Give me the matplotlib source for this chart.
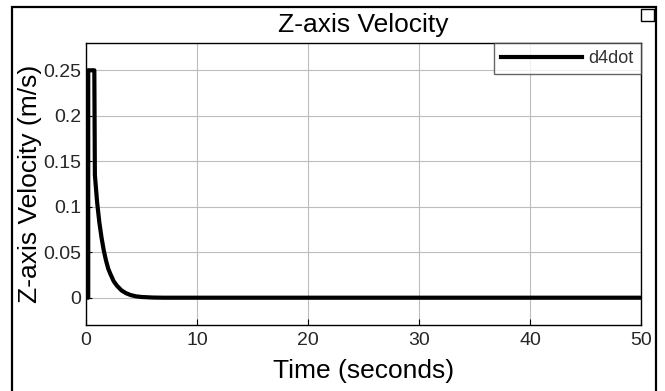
import matplotlib
matplotlib.use('Agg')
import matplotlib.pyplot as plt
from matplotlib.patches import Rectangle

plt.rcParams['font.family'] = ['Liberation Sans', 'DejaVu Sans']

# values
time_s = [0.0, 0.2, 0.2, 0.75, 0.8, 1.0, 1.2, 1.4, 1.6, 1.8, 2.0, 2.2, 2.5,
          2.8, 3.2, 3.6, 4.0, 4.5, 5.0, 6.0, 7.0, 50.0]
d4dot = [0.0, 0.0, 0.25, 0.25, 0.135, 0.105, 0.083, 0.066, 0.052, 0.041,
         0.032, 0.026, 0.018, 0.013, 0.008, 0.005, 0.003, 0.0015, 0.0008,
         0.0002, 0.0, 0.0]
xticks = [0, 10, 20, 30, 40, 50]
yticks = [0, 0.05, 0.1, 0.15, 0.2, 0.25]
ytick_labels = ['0', '0.05', '0.1', '0.15', '0.2', '0.25']

fig = plt.figure(figsize=(6.65, 3.91), dpi=100)
ax = fig.add_axes([86 / 665, 1 - 325 / 391, 555 / 665, 282 / 391])

ax.plot(time_s, d4dot, color='black', linewidth=3, label='d4dot')

ax.set_xlim(0, 50)
ax.set_ylim(-0.03, 0.28)
ax.set_xticks(xticks)
ax.set_yticks(yticks)
ax.set_yticklabels(ytick_labels)
ax.tick_params(direction='in', length=4, labelsize=14, colors='black',
               labelcolor='#262626')
ax.tick_params(axis='x', pad=5)
ax.grid(True, color='#bdbdbd', linewidth=0.8)
ax.set_axisbelow(True)
for s in ax.spines.values():
    s.set_linewidth(1.0)
    s.set_color('black')

ax.set_title('Z-axis Velocity', fontsize=19, pad=8)
ax.set_xlabel('Time (seconds)', fontsize=19, labelpad=7)
ax.set_ylabel('Z-axis Velocity (m/s)', fontsize=19, labelpad=1)

leg = ax.legend(loc='upper right', borderaxespad=0, fontsize=13,
                handlelength=4.5, frameon=True, fancybox=False,
                borderpad=0.4, handletextpad=0.35)
leg.get_frame().set_edgecolor('#404040')
leg.get_frame().set_linewidth(1.0)
for txt in leg.get_texts():
    txt.set_color('#333333')

# outer frame and small corner icon
fig.patches.append(Rectangle((12 / 665, -0.05), 644 / 665, 1.05 - 7 / 391,
                             transform=fig.transFigure, fill=False,
                             edgecolor='black', linewidth=1.6))
fig.patches.append(Rectangle((641 / 665, 1 - 21 / 391), 13 / 665, 12 / 391,
                             transform=fig.transFigure, fill=False,
                             edgecolor='black', linewidth=1.0))

fig.savefig('out.png', dpi=100)
